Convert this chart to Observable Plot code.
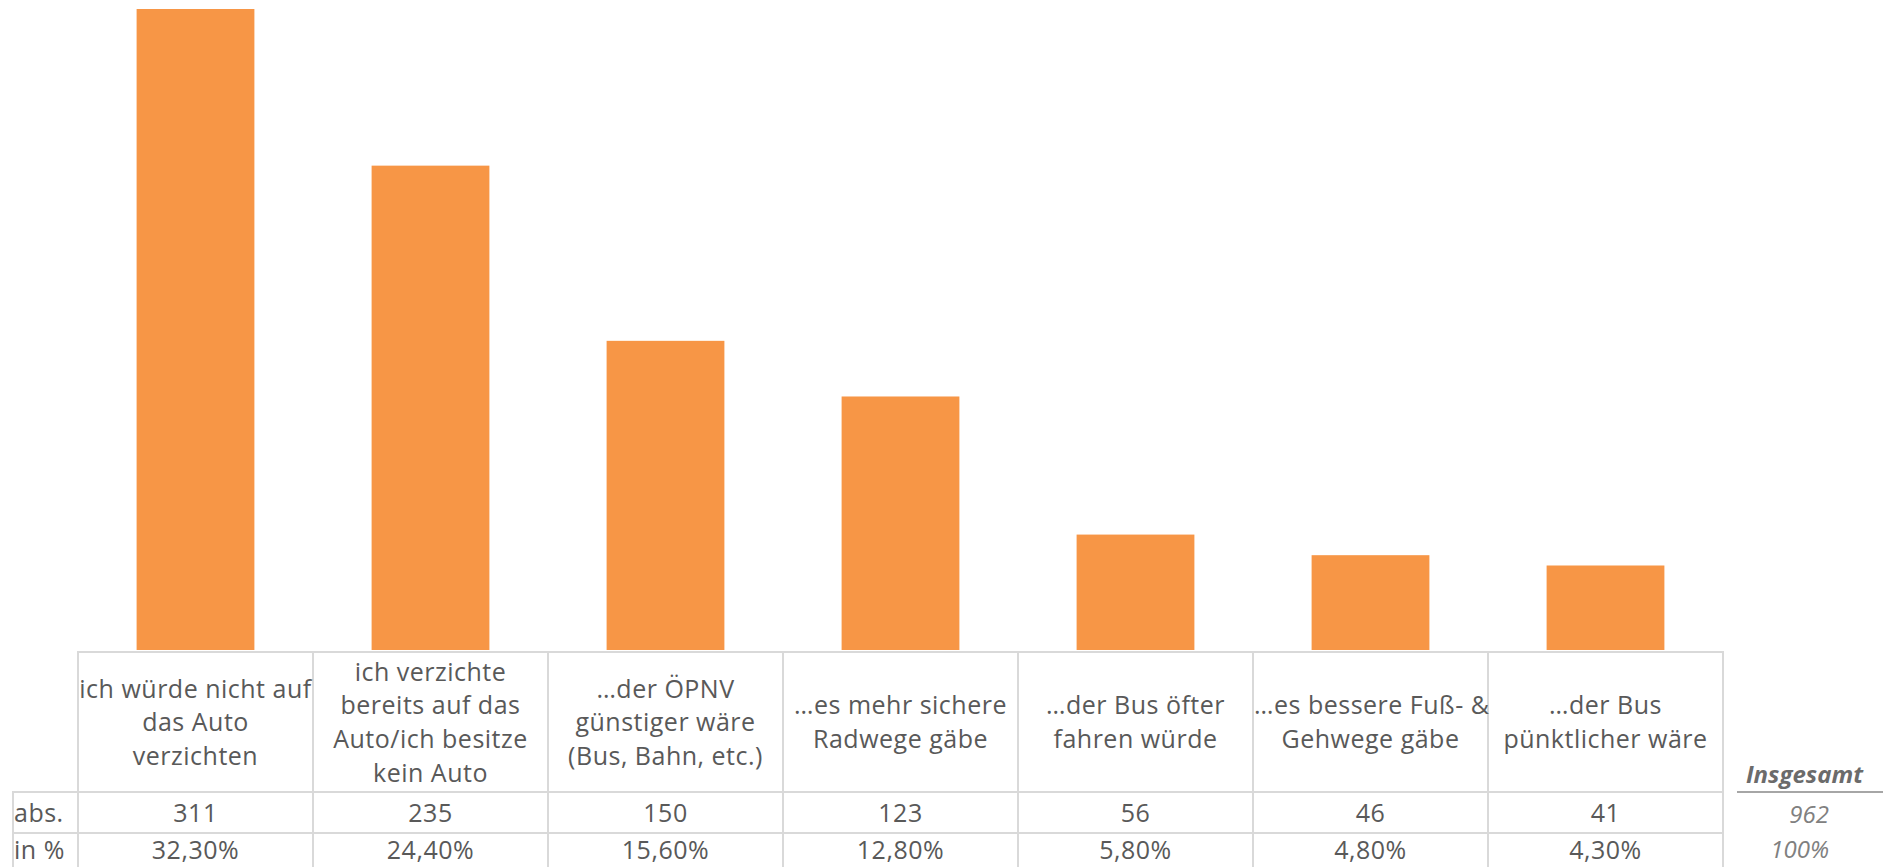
<!DOCTYPE html>
<html><head><meta charset="utf-8">
<script src="https://cdn.jsdelivr.net/npm/d3@7"></script>
<script src="https://cdn.jsdelivr.net/npm/@observablehq/plot@0.6"></script>
<style>
body{margin:0;background:#fff;overflow:hidden;font-family:"Open Sans",sans-serif;color:#595959;}
#wrap{position:relative;width:1883px;height:867px;overflow:hidden;}
#wrap svg{position:absolute;left:0;top:0;}
table{position:absolute;left:12px;top:651px;border-collapse:collapse;table-layout:fixed;}
td{border:2px solid #d9d9d9;text-align:center;vertical-align:middle;padding:0;font-size:25px;font-weight:400;letter-spacing:0.5px;white-space:pre;line-height:33.6px;}
tr.head td{height:137px;}
tr.val td{height:39px;line-height:39px;}
tr.last td{height:33px;line-height:31px;border-bottom:none;vertical-align:top;}
td.lab{text-align:left;padding-left:0;}
td.blank{border:none;}
td.tot{border:none;text-align:right;padding-right:55px;font-style:italic;color:#808080;font-size:24px;letter-spacing:0;}
td.totHead{border:none;border-bottom:2px solid #a6a6a6;text-align:right;padding-right:21px;vertical-align:bottom;font-weight:700;font-style:italic;color:#6b6b6b;font-size:24px;letter-spacing:0;line-height:30px;padding-bottom:2px;}
</style></head><body><div id="wrap"></div>
<script>
const categories = [
  "ich würde nicht auf\ndas Auto\nverzichten",
  "ich verzichte\nbereits auf das\nAuto/ich besitze\nkein Auto",
  "…der ÖPNV\ngünstiger wäre\n(Bus, Bahn, etc.)",
  "…es mehr sichere\nRadwege gäbe",
  "…der Bus öfter\nfahren würde",
  "…es bessere Fuß- &\nGehwege gäbe",
  "…der Bus\npünktlicher wäre"
];
const absValues = [311, 235, 150, 123, 56, 46, 41];
const pctLabels = ["32,30%", "24,40%", "15,60%", "12,80%", "5,80%", "4,80%", "4,30%"];
const rowLabels = ["abs.", "in %"];
const totalLabel = "Insgesamt";
const totalAbs = "962";
const totalPct = "100%";

const data = categories.map((c, i) => ({cat: c, abs: absValues[i], pct: pctLabels[i]}));
const W = 1883;

const chart = Plot.plot({
  width: W, height: 651,
  marginLeft: 77, marginRight: 159, marginTop: 9, marginBottom: 1,
  x: {domain: categories, padding: 0, axis: null},
  y: {domain: [0, d3.max(absValues)], axis: null},
  marks: [
    Plot.barY(data, {x: "cat", y: "abs", fill: "#F79646", insetLeft: 58.6, insetRight: 58.6})
  ]
});
const wrap = document.getElementById("wrap");
wrap.appendChild(chart);

const xs = chart.scale("x");
const step = xs.step;
const left = 12;
const catStart = xs.range[0];
const catEnd = xs.range[0] + step * categories.length;

const table = document.createElement("table");
const cg = document.createElement("colgroup");
const widths = [catStart - left, ...categories.map(() => step), 14, W - catEnd - 14];
widths.forEach(w => { const c = document.createElement("col"); c.style.width = w + "px"; cg.appendChild(c); });
table.appendChild(cg);
table.style.width = widths.reduce((a, b) => a + b, 0) + "px";

function cell(tr, text, cls) {
  const td = document.createElement("td");
  td.textContent = text;
  if (cls) td.className = cls;
  tr.appendChild(td);
  return td;
}
const head = document.createElement("tr"); head.className = "head";
cell(head, "", "blank");
categories.forEach(c => cell(head, c));
cell(head, "", "blank");
cell(head, totalLabel, "totHead");
table.appendChild(head);

const r1 = document.createElement("tr"); r1.className = "val";
cell(r1, rowLabels[0], "lab");
absValues.forEach(v => cell(r1, String(v)));
cell(r1, "", "blank");
cell(r1, totalAbs, "tot");
table.appendChild(r1);

const r2 = document.createElement("tr"); r2.className = "val last";
cell(r2, rowLabels[1], "lab");
pctLabels.forEach(v => cell(r2, v));
cell(r2, "", "blank");
cell(r2, totalPct, "tot");
table.appendChild(r2);

wrap.appendChild(table);
</script>
</body></html>
